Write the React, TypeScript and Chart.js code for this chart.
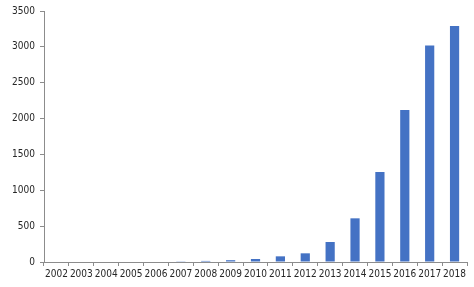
import React, { useEffect, useRef } from "react";
import { Chart, registerables } from "chart.js";

Chart.register(...registerables);

const years = ["2002","2003","2004","2005","2006","2007","2008","2009","2010","2011","2012","2013","2014","2015","2016","2017","2018"];
const counts = [0, 0, 0, 0, 0, 4, 15, 25, 42, 79, 121, 279, 609, 1255, 2120, 3020, 3290];

const FONT = { family: "'DejaVu Sans Condensed', 'DejaVu Sans', sans-serif", size: 10 };
const TEXT = "#262626";
const AXIS = "#8c8c8c";

export default function App() {
  const ref = useRef<HTMLCanvasElement>(null);
  useEffect(() => {
    document.body.style.margin = "0";
    const chart = new Chart(ref.current!, {
      type: "bar",
      data: {
        labels: years,
        datasets: [{
          data: counts,
          backgroundColor: "#4472C4",
          categoryPercentage: 1,
          barPercentage: 0.37,
        }],
      },
      options: {
        animation: false,
        responsive: false,
        maintainAspectRatio: false,
        layout: { padding: { top: 11, right: 7, left: 0, bottom: 0 } },
        plugins: { legend: { display: false }, tooltip: { enabled: false } },
        scales: {
          x: {
            grid: { offset: true, drawOnChartArea: false, drawTicks: true, tickLength: 4, color: AXIS },
            border: { color: AXIS },
            ticks: { font: FONT, color: TEXT, padding: 2, maxRotation: 0, autoSkip: false },
            afterFit: (s: any) => { s.height = 25; },
          },
          y: {
            min: 0,
            max: 3500,
            grid: { drawOnChartArea: false, drawTicks: true, tickLength: 4, color: AXIS },
            border: { color: AXIS },
            ticks: { stepSize: 500, font: FONT, color: TEXT, padding: 5, callback: (v: any) => String(v) },
            afterFit: (s: any) => { s.width = 44; },
          },
        },
      },
    });
    return () => chart.destroy();
  }, []);
  return <canvas ref={ref} width={474} height={287} style={{ display: "block" }} />;
}
